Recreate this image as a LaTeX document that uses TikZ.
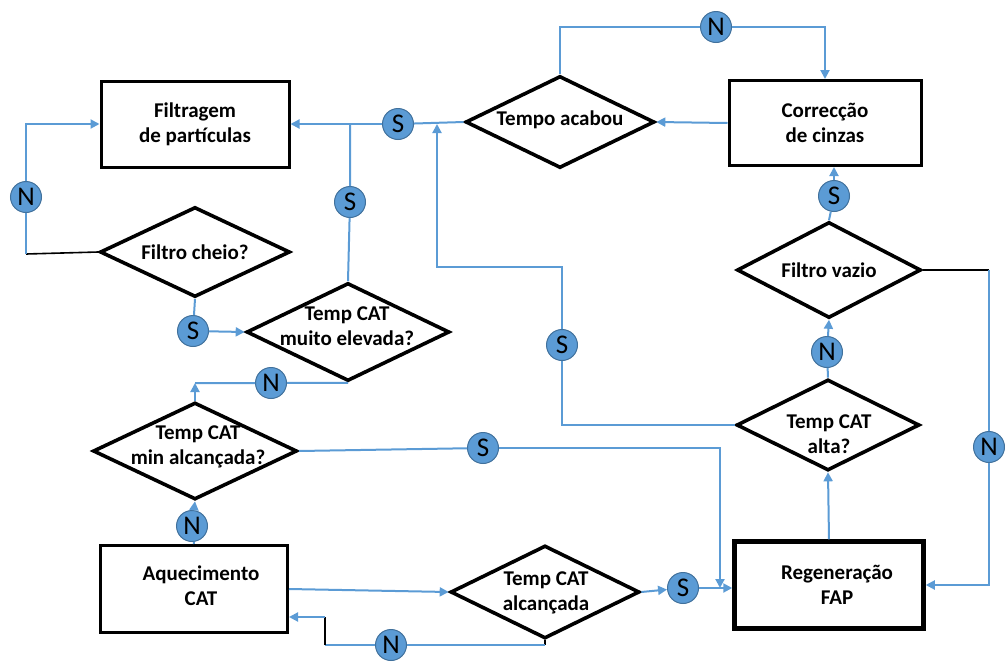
\documentclass[tikz,border=0pt]{standalone}
\usepackage{fontspec}
\setmainfont{Carlito}
\usepackage{tikz}
\usetikzlibrary{shapes.geometric, arrows.meta, calc}
\definecolor{lineblue}{RGB}{91,155,213}
\definecolor{tagedge}{RGB}{65,113,156}

\begin{document}
\begin{tikzpicture}[x=1pt, y=-1pt,
  block/.style={rectangle, draw, line width=3pt, align=center,
    font=\fontsize{21}{25}\selectfont\bfseries},
  decision/.style={diamond, draw, line width=3.6pt, inner sep=0pt},
  txt/.style={align=center, inner sep=0pt, font=\fontsize{21}{25}\selectfont\bfseries},
  tag/.style={circle, fill=lineblue, draw=tagedge, line width=1pt, minimum size=31pt,
    inner sep=0pt, font=\fontsize{27}{27}\selectfont},
  link/.style={draw=lineblue, line width=2pt},
  arrow/.style={link, -{Triangle[length=9pt, width=9pt]}},
  plain/.style={draw=black, line width=1.6pt}
]
\useasboundingbox (0,0) rectangle (1005,662);

% boxes
\node[block, minimum width=188, minimum height=86] (filt) at (195,124) {Filtragem\\de partículas};
\node[block, minimum width=192, minimum height=85] (corr) at (825,123) {Correcção\\de cinzas};
\node[block, minimum width=187, minimum height=87,
  label={[txt, xshift=7pt, yshift=3pt]center:Aquecimento\\CAT}] (aquec) at (194,589) {};
\node[block, line width=4.5pt, minimum width=189, minimum height=87,
  label={[txt, xshift=8pt]center:Regeneração\\FAP}] (regen) at (829,585) {};

% decisions
\node[decision, minimum width=189, minimum height=92] (tempo) at (560,122) {};
\node[decision, minimum width=190, minimum height=90] (cheio) at (195,252) {};
\node[decision, minimum width=203, minimum height=98] (elev) at (348,332) {};
\node[decision, minimum width=204, minimum height=97] (minalc) at (195,451) {};
\node[decision, minimum width=189, minimum height=93] (alcan) at (545,592) {};
\node[decision, minimum width=183, minimum height=91] (alta) at (828,425) {};
\node[decision, minimum width=184, minimum height=96] (vazio) at (829,270) {};

\node[txt] (tTempo) at (560,120) {Tempo acabou};
\node[txt] (tCheio) at (195,252) {Filtro cheio?};
\node[txt] (tElev) at (347,326) {Temp CAT\\muito elevada?};
\node[txt] (tMin) at (198,447) {Temp CAT\\min alcançada?};
\node[txt] (tAlcan) at (546,593) {Temp CAT\\alcançada};
\node[txt] (tAlta) at (829,434) {Temp CAT\\alta?};
\node[txt] (tVazio) at (829,270) {Filtro vazio};

% S / N marks
\node[tag] (nTop) at (716,27) {N};
\node[tag] (sTempo) at (398,124) {S};
\node[tag] (sElev) at (350,202) {S};
\node[tag] (nCheio) at (26,197) {N};
\node[tag] (sCheio) at (193,331) {S};
\node[tag] (nElev) at (271,383) {N};
\node[tag] (sMin) at (483,448) {S};
\node[tag] (nAq) at (192,526) {N};
\node[tag] (sAlcan) at (683,588) {S};
\node[tag] (nAlcan) at (391,645) {N};
\node[tag] (sAlta) at (562,345) {S};
\node[tag] (nAlta) at (827,352) {N};
\node[tag] (sVazio) at (834,196) {S};
\node[tag] (nVazio) at (989,447) {N};

% bends
\coordinate (jA) at (437,267);
\coordinate (jS) at (720,448);
\coordinate (cM) at (195,383);
\coordinate (cL) at (26,254);
\coordinate (vR) at (989,270);
\coordinate (bA) at (545,645);
\coordinate (bB) at (325,645);
\coordinate (bC) at (325,617);

\draw[link] (tempo.north) |- (nTop);
\draw[arrow] (nTop) -| (corr.north);
\draw[arrow] (corr.west) -- (tempo.east);
\draw[link] (tempo.west) -- (sTempo);
\draw[arrow] (sTempo) -- (filt.east);
\draw[link] (elev.north) -- (sElev) -- (sElev |- sTempo);
\draw[link] (alta.west) -| (sAlta);
\draw[arrow] (sAlta) |- (jA) -- (jA |- sTempo);

\draw[plain] (cheio.west) -- (cL);
\draw[link] (cL) -- (nCheio);
\draw[arrow] (nCheio) |- (filt.west);
\draw[link] (cheio.south) -- (sCheio);
\draw[arrow] (sCheio) -- (elev.west);
\draw[link] (elev.south) -- (nElev) -- (cM);
\draw[arrow] (minalc.north) -- (cM);

\draw[link] (minalc.east) -- (sMin);
\draw[arrow] (sMin) -- (jS) -- (jS |- sAlcan);
\draw[link] (aquec.north) -- (nAq);
\draw[arrow] (nAq) -- (minalc.south);
\draw[arrow] (aquec.east) -- (alcan.west);
\draw[arrow] (alcan.east) -- (sAlcan);
\draw[arrow] (sAlcan) -- (sAlcan -| regen.west);

\draw[plain] (alcan.south) -- (bA);
\draw[link] (bA) -- (nAlcan) -- (bB);
\draw[plain] (bB) -- (bC);
\draw[arrow] (bC) -- (bC -| aquec.east);

\draw[arrow] (regen.north) -- (alta.south);
\draw[link] (alta.north) -- (nAlta);
\draw[arrow] (nAlta) -- (vazio.south);
\draw[link] (vazio.north) -- (sVazio);
\draw[arrow] (sVazio) -- (sVazio |- corr.south);
\draw[plain] (vazio.east) -- (vR);
\draw[link] (vR) -- (nVazio);
\draw[arrow] (nVazio) |- (regen.east);
\end{tikzpicture}
\end{document}
